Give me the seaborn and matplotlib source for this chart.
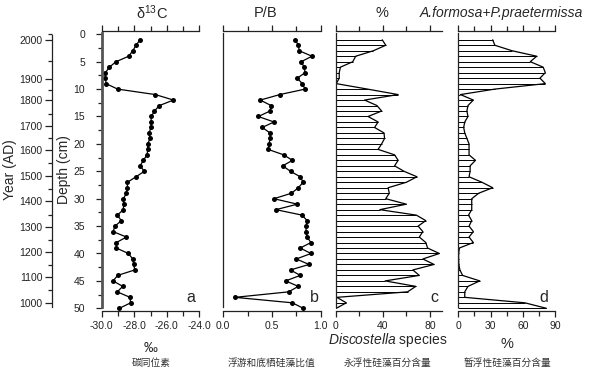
import matplotlib
matplotlib.use("Agg")
import matplotlib.pyplot as plt
import seaborn as sns
import pandas as pd
from matplotlib.ticker import FixedLocator, FormatStrFormatter, NullFormatter

# ---------------- data ----------------
depth = list(range(1, 51))
d13c = [-27.64, -27.89, -28.09, -28.34, -29.12, -29.53, -29.77, -29.77, -29.73, -29.02,
        -26.70, -25.59, -26.45, -26.76, -26.95, -26.97, -26.97, -27.09, -27.03, -27.17,
        -27.17, -27.21, -27.44, -27.64, -27.38, -27.89, -28.42, -28.42, -28.48, -28.67,
        -28.65, -28.67, -29.04, -28.79, -29.18, -29.30, -28.48, -29.10, -29.10, -28.36,
        -28.09, -28.03, -27.97, -29.02, -29.30, -28.71, -29.04, -28.26, -28.22, -28.91]
pb = [0.74, 0.77, 0.78, 0.91, 0.80, 0.83, 0.84, 0.76, 0.81, 0.84,
      0.58, 0.38, 0.49, 0.48, 0.36, 0.52, 0.40, 0.48, 0.48, 0.47,
      0.46, 0.62, 0.71, 0.61, 0.69, 0.79, 0.82, 0.77, 0.70, 0.52,
      0.76, 0.54, 0.81, 0.86, 0.85, 0.85, 0.86, 0.90, 0.79, 0.90,
      0.75, 0.88, 0.69, 0.79, 0.64, 0.77, 0.67, 0.12, 0.71, 0.82]
discostella = [39.5, 42.5, 32, 17, 14.5, 4, 3, 3, 0.5, 27,
               53, 24.5, 35, 39, 27.5, 36, 33, 41, 41.5, 39,
               36, 50, 53, 50, 58, 69, 60, 44.5, 45.5, 42.5,
               60, 37.5, 68.5, 76.5, 70, 74, 71, 76.5, 78, 88,
               74, 83.5, 65.5, 71, 42, 68, 61, 1, 9, 0.5]
aformosa = [32, 34, 50, 73, 67, 79, 81, 76, 81, 34,
            2, 14, 9, 8, 9, 6, 5, 6, 8, 10,
            10, 10, 16, 11, 11, 10, 22, 32, 19, 12.5,
            12.5, 12.5, 9.5, 12.5, 10, 14, 10, 14, 1, 0.3,
            0.3, 0.5, 1.5, 4, 20, 9, 6, 6, 62, 82]

depth_ticks = [0, 5, 10, 15, 20, 25, 30, 35, 40, 45, 50]
depth_minor = [2.5, 7.5, 12.5, 17.5, 22.5, 27.5, 32.5, 37.5, 42.5, 47.5]
year_labels = [2000, 1900, 1800, 1700, 1600, 1500, 1400, 1300, 1200, 1100, 1000]
year_depth = [1.1, 8.2, 11.9, 16.8, 21.2, 25.9, 30.5, 35.2, 39.8, 44.3, 49.0]
year_minor_depth = [0.0, 4.8, 10.2, 14.6, 18.9, 23.5, 28.2, 32.9, 37.5, 42.1, 46.6]

df = pd.DataFrame({"depth": depth, "d13c": d13c, "pb": pb,
                   "disco": discostella, "aform": aformosa})

# ---------------- style ----------------
sns.set_style("ticks")
plt.rcParams["font.family"] = ["Liberation Sans", "DejaVu Sans"]
plt.rcParams["axes.unicode_minus"] = False
plt.rcParams["mathtext.fontset"] = "custom"
plt.rcParams["mathtext.rm"] = "Liberation Sans"
plt.rcParams["mathtext.it"] = "Liberation Sans:italic"
plt.rcParams["axes.edgecolor"] = "#222222"
plt.rcParams["xtick.color"] = "#222222"
plt.rcParams["ytick.color"] = "#222222"

W, H = 600, 369
fig = plt.figure(figsize=(6, 3.69), dpi=100)
TOP, BOT = 30.7, 311.0
Y0PX, PXCM = 34.3, 5.48
ylim = (50 + (BOT - Y0PX - 50 * PXCM) / PXCM, -(Y0PX - TOP) / PXCM)


def add(x0, x1):
    ax = fig.add_axes([x0 / W, 1 - BOT / H, (x1 - x0) / W, (BOT - TOP) / H])
    ax.set_facecolor("none")
    return ax


def style(ax, xlim, major, minor, fmt):
    ax.set_xlim(xlim)
    ax.set_ylim(ylim)
    ax.spines["right"].set_visible(False)
    ax.spines["left"].set_bounds(-0.2, 49.8)
    for s in ["top", "bottom", "left"]:
        ax.spines[s].set_linewidth(0.9)
    ax.xaxis.set_major_locator(FixedLocator(major))
    ax.xaxis.set_minor_locator(FixedLocator(minor))
    ax.xaxis.set_major_formatter(FormatStrFormatter(fmt))
    ax.tick_params(axis="x", which="both", top=True, bottom=True, direction="out",
                   labeltop=False, labelbottom=True)
    ax.tick_params(axis="x", which="major", length=4, width=0.9, labelsize=7.5, pad=3)
    ax.tick_params(axis="x", which="minor", length=3.5, width=0.9)
    ax.tick_params(axis="y", which="both", left=False, right=False,
                   labelleft=False, labelright=False)
    ax.set_xlabel("")
    ax.set_ylabel("")
    ax.grid(False)


# ---- year axis ----
axy = add(51.7, 60)
axy.set_ylim(ylim)
for s in ["top", "bottom", "right"]:
    axy.spines[s].set_visible(False)
axy.spines["left"].set_bounds(0.1, 49.7)
axy.spines["left"].set_linewidth(0.9)
axy.set_xticks([])
axy.yaxis.set_major_locator(FixedLocator(year_depth))
axy.yaxis.set_minor_locator(FixedLocator(year_minor_depth))
axy.set_yticklabels([str(y) for y in year_labels])
axy.tick_params(axis="y", which="major", length=5, width=0.9, labelsize=7.5, pad=1.5)
axy.tick_params(axis="y", which="minor", length=2.8, width=0.9)

# ---- panel a ----
axa = add(101.7, 199.3)
sns.lineplot(data=df, x="d13c", y="depth", orient="y", sort=False, estimator=None,
             color="black", lw=0.9, marker="o", markersize=3.6, markeredgewidth=0,
             ax=axa)
style(axa, (-30, -24), [-30, -28, -26, -24], [-29, -27, -25], "%.1f")
axa.spines["left"].set_linewidth(2.0)
axa.spines["left"].set_color("#555555")
axa.yaxis.set_major_locator(FixedLocator(depth_ticks))
axa.yaxis.set_minor_locator(FixedLocator(depth_minor))
axa.yaxis.set_minor_formatter(NullFormatter())
axa.set_yticklabels([str(d) for d in depth_ticks])
axa.tick_params(axis="y", which="both", left=True, labelleft=True)
axa.tick_params(axis="y", which="major", length=4, width=0.9, labelsize=7.5, pad=8)
axa.tick_params(axis="y", which="minor", length=3, width=0.9)

# ---- panel b ----
axb = add(223.3, 320.7)
sns.lineplot(data=df, x="pb", y="depth", orient="y", sort=False, estimator=None,
             color="black", lw=0.9, marker="o", markersize=3.6, markeredgewidth=0,
             ax=axb)
style(axb, (0, 1), [0, 0.5, 1.0], [0.25, 0.75], "%.1f")

# ---- panel c ----
axc = add(335.7, 441.7)
axc.hlines(df["depth"], 0, df["disco"], color="black", lw=0.7)
sns.lineplot(data=df, x="disco", y="depth", orient="y", sort=False, estimator=None,
             color="black", lw=0.9, ax=axc)
style(axc, (0, 90), [0, 40, 80], [20, 60], "%d")

# ---- panel d ----
axd = add(458.3, 555.0)
axd.hlines(df["depth"], 0, df["aform"], color="black", lw=0.7)
sns.lineplot(data=df, x="aform", y="depth", orient="y", sort=False, estimator=None,
             color="black", lw=0.9, ax=axd)
style(axd, (0, 90), [0, 30, 60, 90], [15, 45, 75], "%d")


def ftext(x, y, s, **kw):
    fig.text(x / W, 1 - y / H, s, **kw)


# titles
ftext(151.7, 13, r"δ$\mathregular{^{13}}$C", ha="center", va="center", fontsize=10.5)
ftext(266, 13, "P/B", ha="center", va="center", fontsize=10.5)
ftext(382, 13, "%", ha="center", va="center", fontsize=10.5)
ftext(420, 13, "A.formosa+P.praetermissa", ha="left", va="center", fontsize=10,
      fontstyle="italic")

# axis labels
ftext(10, 170, "Year (AD)", ha="center", va="center", rotation=90, fontsize=10)
ftext(64, 170, "Depth (cm)", ha="center", va="center", rotation=90, fontsize=10)

# panel letters
for x, y, s in [(191, 298, "a"), (314, 297, "b"), (434, 298, "c"), (544, 297, "d")]:
    ftext(x, y, s, ha="center", va="center", fontsize=11.5)

# unit labels
ftext(151, 348, "‰", ha="center", va="center", fontsize=10)
ftext(388, 340, r"$\mathit{Discostella}$ species", ha="center", va="center", fontsize=10)
ftext(507, 344, "%", ha="center", va="center", fontsize=10.5)

cjk = ["Noto Sans CJK SC", "DejaVu Sans"]
for x, s in [(151, "碳同位素"), (271, "浮游和底栖硅藻比值"),
             (388, "永浮性硅藻百分含量"), (507, "暂浮性硅藻百分含量")]:
    ftext(x, 363, s, ha="center", va="center", fontsize=7, family=cjk, color="#333333")

fig.savefig("out.png", dpi=100)
